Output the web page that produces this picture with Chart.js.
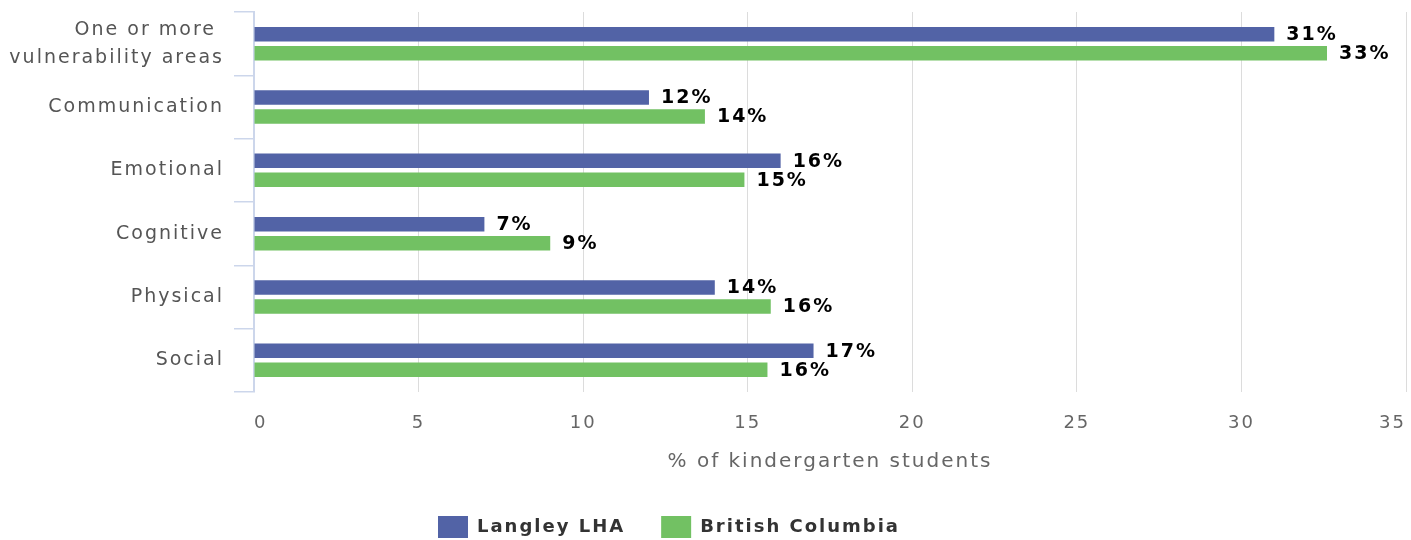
<!DOCTYPE html>
<html>
<head>
<meta charset="utf-8">
<script src="https://cdn.jsdelivr.net/npm/chart.js@4/dist/chart.umd.min.js"></script>
<style>
    html, body { margin: 0; padding: 0; background: #fff; }
    canvas { display: block; }
</style>
</head>
<body>
<canvas id="chart" width="1411" height="540"></canvas>
<script>
const categories = [
    ["One or more ", "vulnerability areas"],
    "Communication",
    "Emotional",
    "Cognitive",
    "Physical",
    "Social",
];
const langleyValues = [31, 12, 16, 7, 14, 17];
const bcValues = [32.6, 13.7, 14.9, 9.0, 15.7, 15.6];
const xTicks = [0, 5, 10, 15, 20, 25, 30, 35];

const FONT = '"DejaVu Sans", sans-serif';
const SPACING = "2px";

// canvas letter spacing so the wide-tracked labels measure and draw right
const letterSpacing = {
    id: "letterSpacing",
    beforeUpdate(chart) { chart.ctx.letterSpacing = SPACING; },
    beforeDraw(chart) { chart.ctx.letterSpacing = SPACING; },
};

// legend sits a bit left of the canvas centre in the original
const legendShift = {
    id: "legendShift",
    afterLayout(chart) {
        chart.legend.left -= 34;
        chart.legend.right -= 34;
    },
};

// value labels at the end of each bar
const barLabels = {
    id: "barLabels",
    afterDatasetsDraw(chart) {
        const ctx = chart.ctx;
        ctx.save();
        ctx.letterSpacing = SPACING;
        ctx.font = "bold 19px " + FONT;
        ctx.fillStyle = "#000";
        ctx.textAlign = "left";
        ctx.textBaseline = "middle";
        chart.data.datasets.forEach((ds, i) => {
            chart.getDatasetMeta(i).data.forEach((bar, j) => {
                ctx.fillText(Math.round(ds.data[j]) + "%", bar.x + 12, bar.y + 1);
            });
        });
        ctx.restore();
    },
};

new Chart(document.getElementById("chart"), {
    type: "bar",
    data: {
        labels: categories,
        datasets: [
            {
                label: "Langley LHA",
                data: langleyValues,
                backgroundColor: "#5263a6",
                categoryPercentage: 0.6,
                barPercentage: 0.76,
            },
            {
                label: "British Columbia",
                data: bcValues,
                backgroundColor: "#72c163",
                categoryPercentage: 0.6,
                barPercentage: 0.76,
            },
        ],
    },
    plugins: [letterSpacing, legendShift, barLabels],
    options: {
        indexAxis: "y",
        responsive: false,
        animation: false,
        devicePixelRatio: 1,
        layout: { padding: { top: 12, right: 5, left: 0, bottom: -8 } },
        plugins: {
            tooltip: { enabled: false },
            legend: {
                position: "bottom",
                labels: {
                    boxWidth: 30,
                    boxHeight: 22,
                    padding: 36,
                    color: "#333",
                    font: { family: FONT, size: 18, weight: "bold" },
                },
            },
        },
        scales: {
            x: {
                min: 0,
                max: 35,
                afterBuildTicks: (scale) => { scale.ticks = xTicks.map((v) => ({ value: v })); },
                afterFit: (scale) => {
                    scale.height = 88;
                    scale.paddingLeft = 0;
                    scale.paddingRight = 0;
                },
                grid: { color: "#dcdcdc", lineWidth: 1, drawTicks: false },
                border: { display: false },
                ticks: {
                    color: "#666",
                    padding: 21,
                    align: "inner",
                    font: { family: FONT, size: 18 },
                },
                title: {
                    display: true,
                    text: "% of kindergarten students",
                    color: "#666",
                    font: { family: FONT, size: 20 },
                    padding: { top: 0, bottom: 6 },
                },
            },
            y: {
                afterFit: (scale) => {
                    scale.width = 254;
                    scale.paddingTop = 0;
                    scale.paddingBottom = 0;
                },
                grid: {
                    drawOnChartArea: false,
                    drawTicks: true,
                    tickLength: 20,
                    color: "#ccd6eb",
                    lineWidth: 1.5,
                },
                border: { display: true, color: "#ccd6eb", width: 2 },
                ticks: {
                    color: "#555",
                    padding: 10,
                    font: { family: FONT, size: 19, lineHeight: 1.47 },
                },
            },
        },
    },
});
</script>
</body>
</html>
